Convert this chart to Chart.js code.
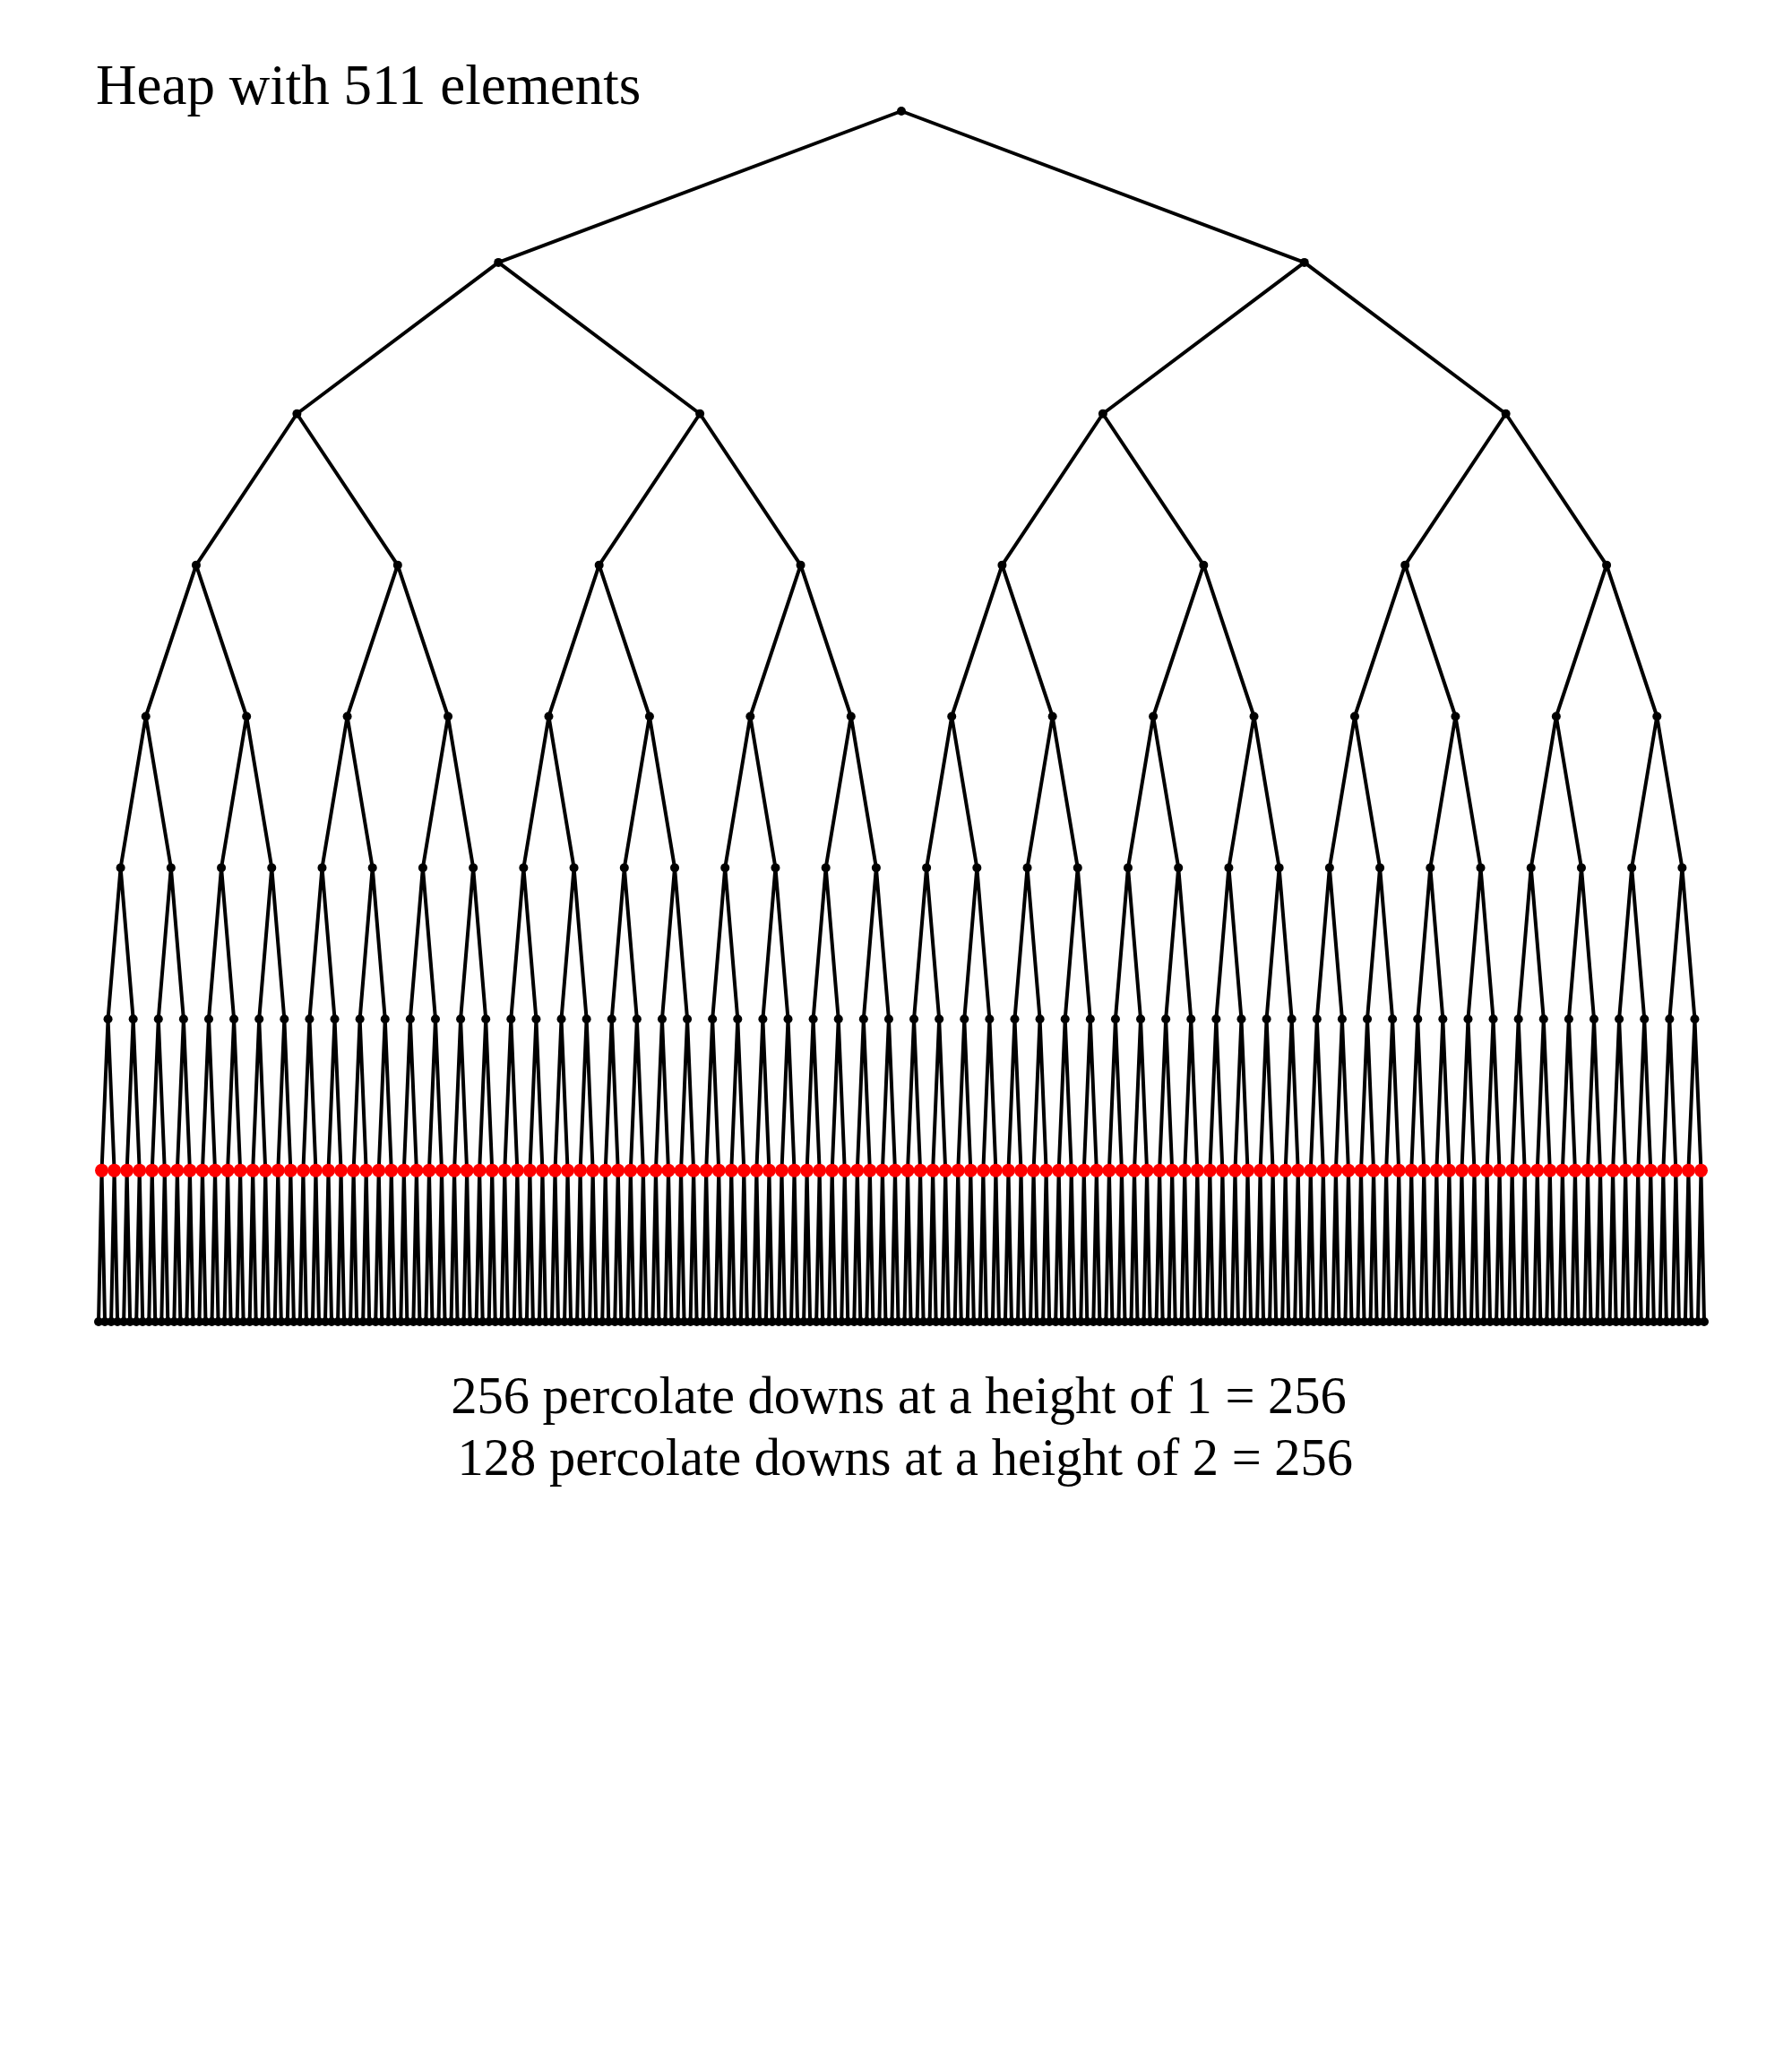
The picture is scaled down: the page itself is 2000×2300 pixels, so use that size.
<!DOCTYPE html>
<html>
<head>
<meta charset="utf-8">
<title>Heap with 511 elements</title>
<script src="https://cdn.jsdelivr.net/npm/chart.js"></script>
<style>
    body { margin: 0; background: #ffffff; }
    #wrap { position: relative; width: 2000px; height: 2300px; }
    .label {
        position: absolute;
        font-family: "Liberation Serif", "DejaVu Serif", serif;
        color: #000;
        white-space: pre;
    }
    #title { left: 107px; top: 64px; font-size: 63px; line-height: 63px; }
    .caption { left: 0; width: 2006px; text-align: center; font-size: 58.5px; line-height: 58.5px; }
    #cap1 { top: 1529px; }
    #cap2 { top: 1598px; }
</style>
</head>
<body>
<div id="wrap">
    <canvas id="heapChart"></canvas>
    <div class="label" id="title"></div>
    <div class="label caption" id="cap1"></div>
    <div class="label caption" id="cap2"></div>
</div>
<script>
// נתוני הערימה
const heapSize = 511;
const levelSizes = [1, 2, 4, 8, 16, 32, 64, 128, 256];
const highlightLevel = 7;
const titleText = "Heap with 511 elements";
const captionLines = [
    "256 percolate downs at a height of 1 = 256",
    " 128 percolate downs at a height of 2 = 256"
];

document.getElementById("title").textContent = titleText;
document.getElementById("cap1").textContent = captionLines[0];
document.getElementById("cap2").textContent = captionLines[1];

const leafCount = levelSizes[levelSizes.length - 1];
const depth = levelSizes.length - 1;

// מיקום צומת לפי האינדקס שלו בערימה
function nodePos(k) {
    const d = Math.floor(Math.log2(k + 1));
    const i = k + 1 - levelSizes[d];
    return { x: (i + 0.5) * leafCount / levelSizes[d], y: d };
}

const blackNodes = [];
const redNodes = [];
const edges = [];
for (let k = 0; k < heapSize; k++) {
    const p = nodePos(k);
    if (p.y === highlightLevel) redNodes.push(p); else blackNodes.push(p);
    if (k > 0) {
        const parent = nodePos(Math.floor((k - 1) / 2));
        edges.push(parent, p, { x: p.x, y: null });
    }
}

const ctx = document.getElementById("heapChart").getContext("2d");
new Chart(ctx, {
    type: "scatter",
    data: {
        datasets: [
            {
                label: "edges",
                data: edges,
                showLine: true,
                spanGaps: false,
                borderColor: "#000000",
                borderWidth: 4,
                pointRadius: 0,
                clip: false,
                order: 3
            },
            {
                label: "nodes",
                data: blackNodes,
                backgroundColor: "#000000",
                borderWidth: 0,
                pointRadius: 5,
                clip: false,
                order: 2
            },
            {
                label: "height 1",
                data: redNodes,
                backgroundColor: "#ff0000",
                borderWidth: 0,
                pointRadius: 7.5,
                clip: false,
                order: 1
            }
        ]
    },
    options: {
        responsive: true,
        maintainAspectRatio: false,
        devicePixelRatio: 1,
        animation: false,
        layout: { padding: { left: 106.5, right: 94.5, top: 124, bottom: 825 } },
        plugins: { legend: { display: false }, tooltip: { enabled: false } },
        scales: {
            x: { type: "linear", min: 0, max: leafCount, display: false },
            y: { type: "linear", min: 0, max: depth, reverse: true, display: false }
        }
    }
});
</script>
</body>
</html>
